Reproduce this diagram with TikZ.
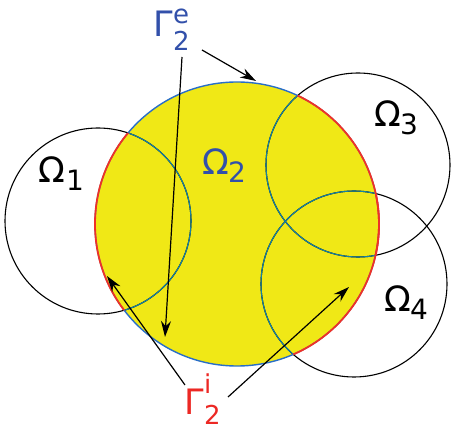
\documentclass[tikz,border=0pt]{standalone}
\usepackage{fontspec}
\setmainfont{DejaVu Sans}
\usetikzlibrary{arrows.meta,calc}
\definecolor{fillyel}{RGB}{240,232,22}
\definecolor{innerteal}{RGB}{20,130,165}
\definecolor{bndblue}{RGB}{40,110,200}
\definecolor{bndred}{RGB}{238,50,40}
\definecolor{lblblue}{RGB}{50,80,170}
\definecolor{lblred}{RGB}{236,40,36}
\begin{document}
\begin{tikzpicture}[x=1pt,y=1pt,
  big/.style={font=\fontsize{35}{35}\selectfont, inner sep=0pt, anchor=base west},
  small/.style={font=\fontsize{28}{28}\selectfont, inner sep=0pt, anchor=base west},
  script/.style={font=\fontsize{26}{26}\selectfont, inner sep=0pt, anchor=base west},
  circ/.style={line width=1.1pt},
  pointer/.style={line width=1.2pt, -{Stealth[length=16pt,width=10pt]}}]
\useasboundingbox (0,0) rectangle (451,432);
\def\Pa{(98,211) circle[radius=93]}
\def\Pb{(237,208) circle[radius=142]}
\def\Pc{(358,267) circle[radius=92]}
\def\Pd{(354,148) circle[radius=93]}
% domain 2 fill
\fill[fillyel] \Pb;
% other domains
\draw[circ,black] \Pa;
\draw[circ,black] \Pc;
\draw[circ,black] \Pd;
\begin{scope}
  \clip \Pb;
  \draw[circ,innerteal] \Pa;
  \draw[circ,innerteal] \Pc;
  \draw[circ,innerteal] \Pd;
\end{scope}
% boundary of domain 2
\draw[line width=1.4pt,bndblue] \Pb;
\begin{scope}\clip \Pa; \draw[line width=1.8pt,bndred] \Pb; \end{scope}
\begin{scope}\clip \Pc; \draw[line width=1.8pt,bndred] \Pb; \end{scope}
\begin{scope}\clip \Pd; \draw[line width=1.8pt,bndred] \Pb; \end{scope}
% labels
\node[big] (o1) at (38,249) {Ω};
\node[small] (o1s) at (66,241) {1};
\node[big,text=lblblue] (o2) at (202,257) {Ω};
\node[small,text=lblblue] (o2s) at (228,249) {2};
\node[big] (o3) at (374,305) {Ω};
\node[small] (o3s) at (400,297) {3};
\node[big] (o4) at (384,120) {Ω};
\node[small] (o4s) at (410,112) {4};
\node[big,text=lblblue] (ge) at (153,395) {Γ};
\node[script,text=lblblue] (gesup) at ($(ge.base east)+(0,13)$) {e};
\node[script,text=lblblue] (gesub) at ($(ge.base east)+(0,-14)$) {2};
\node[big,text=lblred] (gi) at (184,17) {Γ};
\node[script,text=lblred] (gisup) at ($(gi.base east)+(0,21)$) {i};
\node[script,text=lblred] (gisub) at ($(gi.base east)+(0,-10)$) {2};
% arrow ends
\coordinate (e1s) at (202,382);
\coordinate (e1t) at (256,351);
\coordinate (e2s) at (182,375);
\coordinate (e2t) at (165,95);
\coordinate (i1s) at (185,47);
\coordinate (i1t) at (107,156);
\coordinate (i2s) at (228,35);
\coordinate (i2t) at (349,145);
\draw[pointer] (e1s) -- (e1t);
\draw[pointer] (e2s) -- (e2t);
\draw[pointer] (i1s) -- (i1t);
\draw[pointer] (i2s) -- (i2t);
\end{tikzpicture}
\end{document}
